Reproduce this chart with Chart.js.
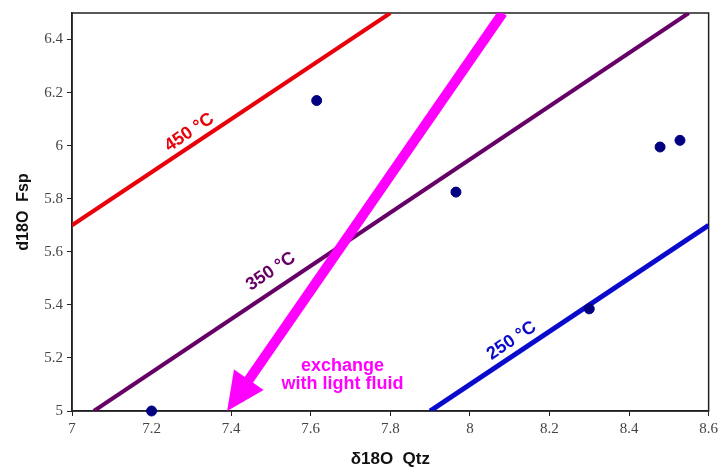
<!DOCTYPE html>
<html>
<head>
<meta charset="utf-8">
<script src="https://cdn.jsdelivr.net/npm/chart.js@4.4.1/dist/chart.umd.min.js"></script>
<style>
  html, body { margin: 0; padding: 0; background: #fff; }
</style>
</head>
<body>
<canvas id="chart" width="722" height="474"></canvas>
<script>
// Samples (quartz vs feldspar)
const sampleQtz = [7.2, 7.615, 7.965, 8.30, 8.478, 8.528];
const sampleFsp = [5.0, 6.17, 5.825, 5.385, 5.995, 6.02];

// Isotherm lines (end points)
const line450X = [7.0, 7.8];
const line450Y = [5.7, 6.5];
const line350X = [7.055, 8.55];
const line350Y = [5.0, 6.5];
const line250X = [7.9, 8.6];
const line250Y = [5.0, 5.7];

// Exchange arrow (start, tip)
const arrowX = [8.0825, 7.39];
const arrowY = [6.5, 5.0];

// Axis ticks
const xTicks = [7, 7.2, 7.4, 7.6, 7.8, 8, 8.2, 8.4, 8.6];
const yTicks = [5, 5.2, 5.4, 5.6, 5.8, 6, 6.2, 6.4];

function pts(xs, ys) {
  return xs.map((x, i) => ({ x: x, y: ys[i] }));
}

const frame = {
  id: "frame",
  beforeDatasetsDraw(chart) {
    const { ctx, chartArea: a } = chart;
    // box around plot
    ctx.save();
    ctx.strokeStyle = "#222";
    ctx.lineWidth = 1.5;
    ctx.strokeRect(a.left, a.top, a.right - a.left, a.bottom - a.top);
    ctx.restore();
  },
  afterDatasetsDraw(chart) {
    const { ctx, chartArea: a, scales } = chart;
    const x = scales.x, y = scales.y;

    // arrow
    ctx.save();
    ctx.beginPath();
    ctx.rect(a.left, a.top, a.right - a.left, a.bottom - a.top);
    ctx.clip();
    const x0 = x.getPixelForValue(arrowX[0]), y0 = y.getPixelForValue(arrowY[0]);
    const x1 = x.getPixelForValue(arrowX[1]), y1 = y.getPixelForValue(arrowY[1]);
    const ang = Math.atan2(y1 - y0, x1 - x0);
    const headLen = 38, headW = 18;
    const bx = x1 - headLen * Math.cos(ang), by = y1 - headLen * Math.sin(ang);
    ctx.strokeStyle = "#ff00ff";
    ctx.fillStyle = "#ff00ff";
    ctx.lineWidth = 10;
    ctx.beginPath();
    ctx.moveTo(x0, y0);
    ctx.lineTo(bx + 4 * Math.cos(ang), by + 4 * Math.sin(ang));
    ctx.stroke();
    ctx.beginPath();
    ctx.moveTo(x1, y1);
    ctx.lineTo(bx + headW * Math.sin(ang), by - headW * Math.cos(ang));
    ctx.lineTo(bx - headW * Math.sin(ang), by + headW * Math.cos(ang));
    ctx.closePath();
    ctx.fill();
    ctx.restore();

    // labels along the lines
    const rot = -Math.atan(268 / 400);
    const labels = [
      { t: "450 °C", x: 7.295, y: 6.05, c: "#e8000a", r: rot },
      { t: "350 °C", x: 7.5, y: 5.526, c: "#660066", r: rot },
      { t: "250 °C", x: 8.105, y: 5.265, c: "#0a0acc", r: rot },
      { t: "exchange", x: 7.68, y: 5.168, c: "#ff00ff", r: 0 },
      { t: "with light fluid", x: 7.68, y: 5.102, c: "#ff00ff", r: 0 }
    ];
    ctx.save();
    ctx.font = "bold 18px 'Liberation Sans', Arial, sans-serif";
    ctx.textAlign = "center";
    ctx.textBaseline = "middle";
    labels.forEach(l => {
      ctx.save();
      ctx.translate(x.getPixelForValue(l.x), y.getPixelForValue(l.y));
      ctx.rotate(l.r);
      ctx.fillStyle = l.c;
      ctx.fillText(l.t, 0, 0);
      ctx.restore();
    });
    ctx.restore();
  }
};

const lineSet = (xs, ys, color, w) => ({
  type: "line",
  data: pts(xs, ys),
  borderColor: color,
  borderWidth: w,
  pointRadius: 0,
  fill: false,
  order: 2
});

new Chart(document.getElementById("chart"), {
  type: "scatter",
  data: {
    datasets: [
      lineSet(line450X, line450Y, "#e8000a", 4),
      lineSet(line350X, line350Y, "#660066", 4),
      lineSet(line250X, line250Y, "#0a0acc", 5),
      {
        data: pts(sampleQtz, sampleFsp),
        backgroundColor: "#000080",
        borderColor: "#000080",
        pointRadius: 5,
        clip: false,
        order: 1
      }
    ]
  },
  options: {
    responsive: false,
    animation: false,
    layout: { padding: { left: 0, right: 11, top: 10, bottom: 0 } },
    plugins: { legend: { display: false }, tooltip: { enabled: false } },
    scales: {
      x: {
        type: "linear",
        min: 7,
        max: 8.6,
        afterBuildTicks: s => { s.ticks = xTicks.map(v => ({ value: v })); },
        afterFit: s => { s.height = 63; },
        grid: { drawOnChartArea: false, tickLength: 5, color: "#222" },
        border: { color: "#222", width: 1.5 },
        ticks: {
          padding: 4,
          color: "#444",
          font: { family: "'Liberation Serif', 'Times New Roman', serif", size: 15 },
          callback: v => String(v)
        },
        title: {
          display: true,
          text: "δ18O  Qtz",
          color: "#111",
          font: { family: "'Liberation Sans', Arial, sans-serif", size: 17, weight: "bold" },
          padding: { top: 12 }
        }
      },
      y: {
        type: "linear",
        min: 5,
        max: 6.5,
        afterBuildTicks: s => { s.ticks = yTicks.map(v => ({ value: v })); },
        afterFit: s => { s.width = 72; },
        grid: { drawOnChartArea: false, tickLength: 5, color: "#222" },
        border: { color: "#222", width: 1.5 },
        ticks: {
          padding: 4,
          color: "#444",
          font: { family: "'Liberation Serif', 'Times New Roman', serif", size: 15 },
          callback: v => String(v)
        },
        title: {
          display: true,
          text: "d18O  Fsp",
          color: "#111",
          font: { family: "'Liberation Sans', Arial, sans-serif", size: 16, weight: "bold" },
          padding: { top: 14, bottom: 0 }
        }
      }
    }
  },
  plugins: [frame]
});
</script>
</body>
</html>
